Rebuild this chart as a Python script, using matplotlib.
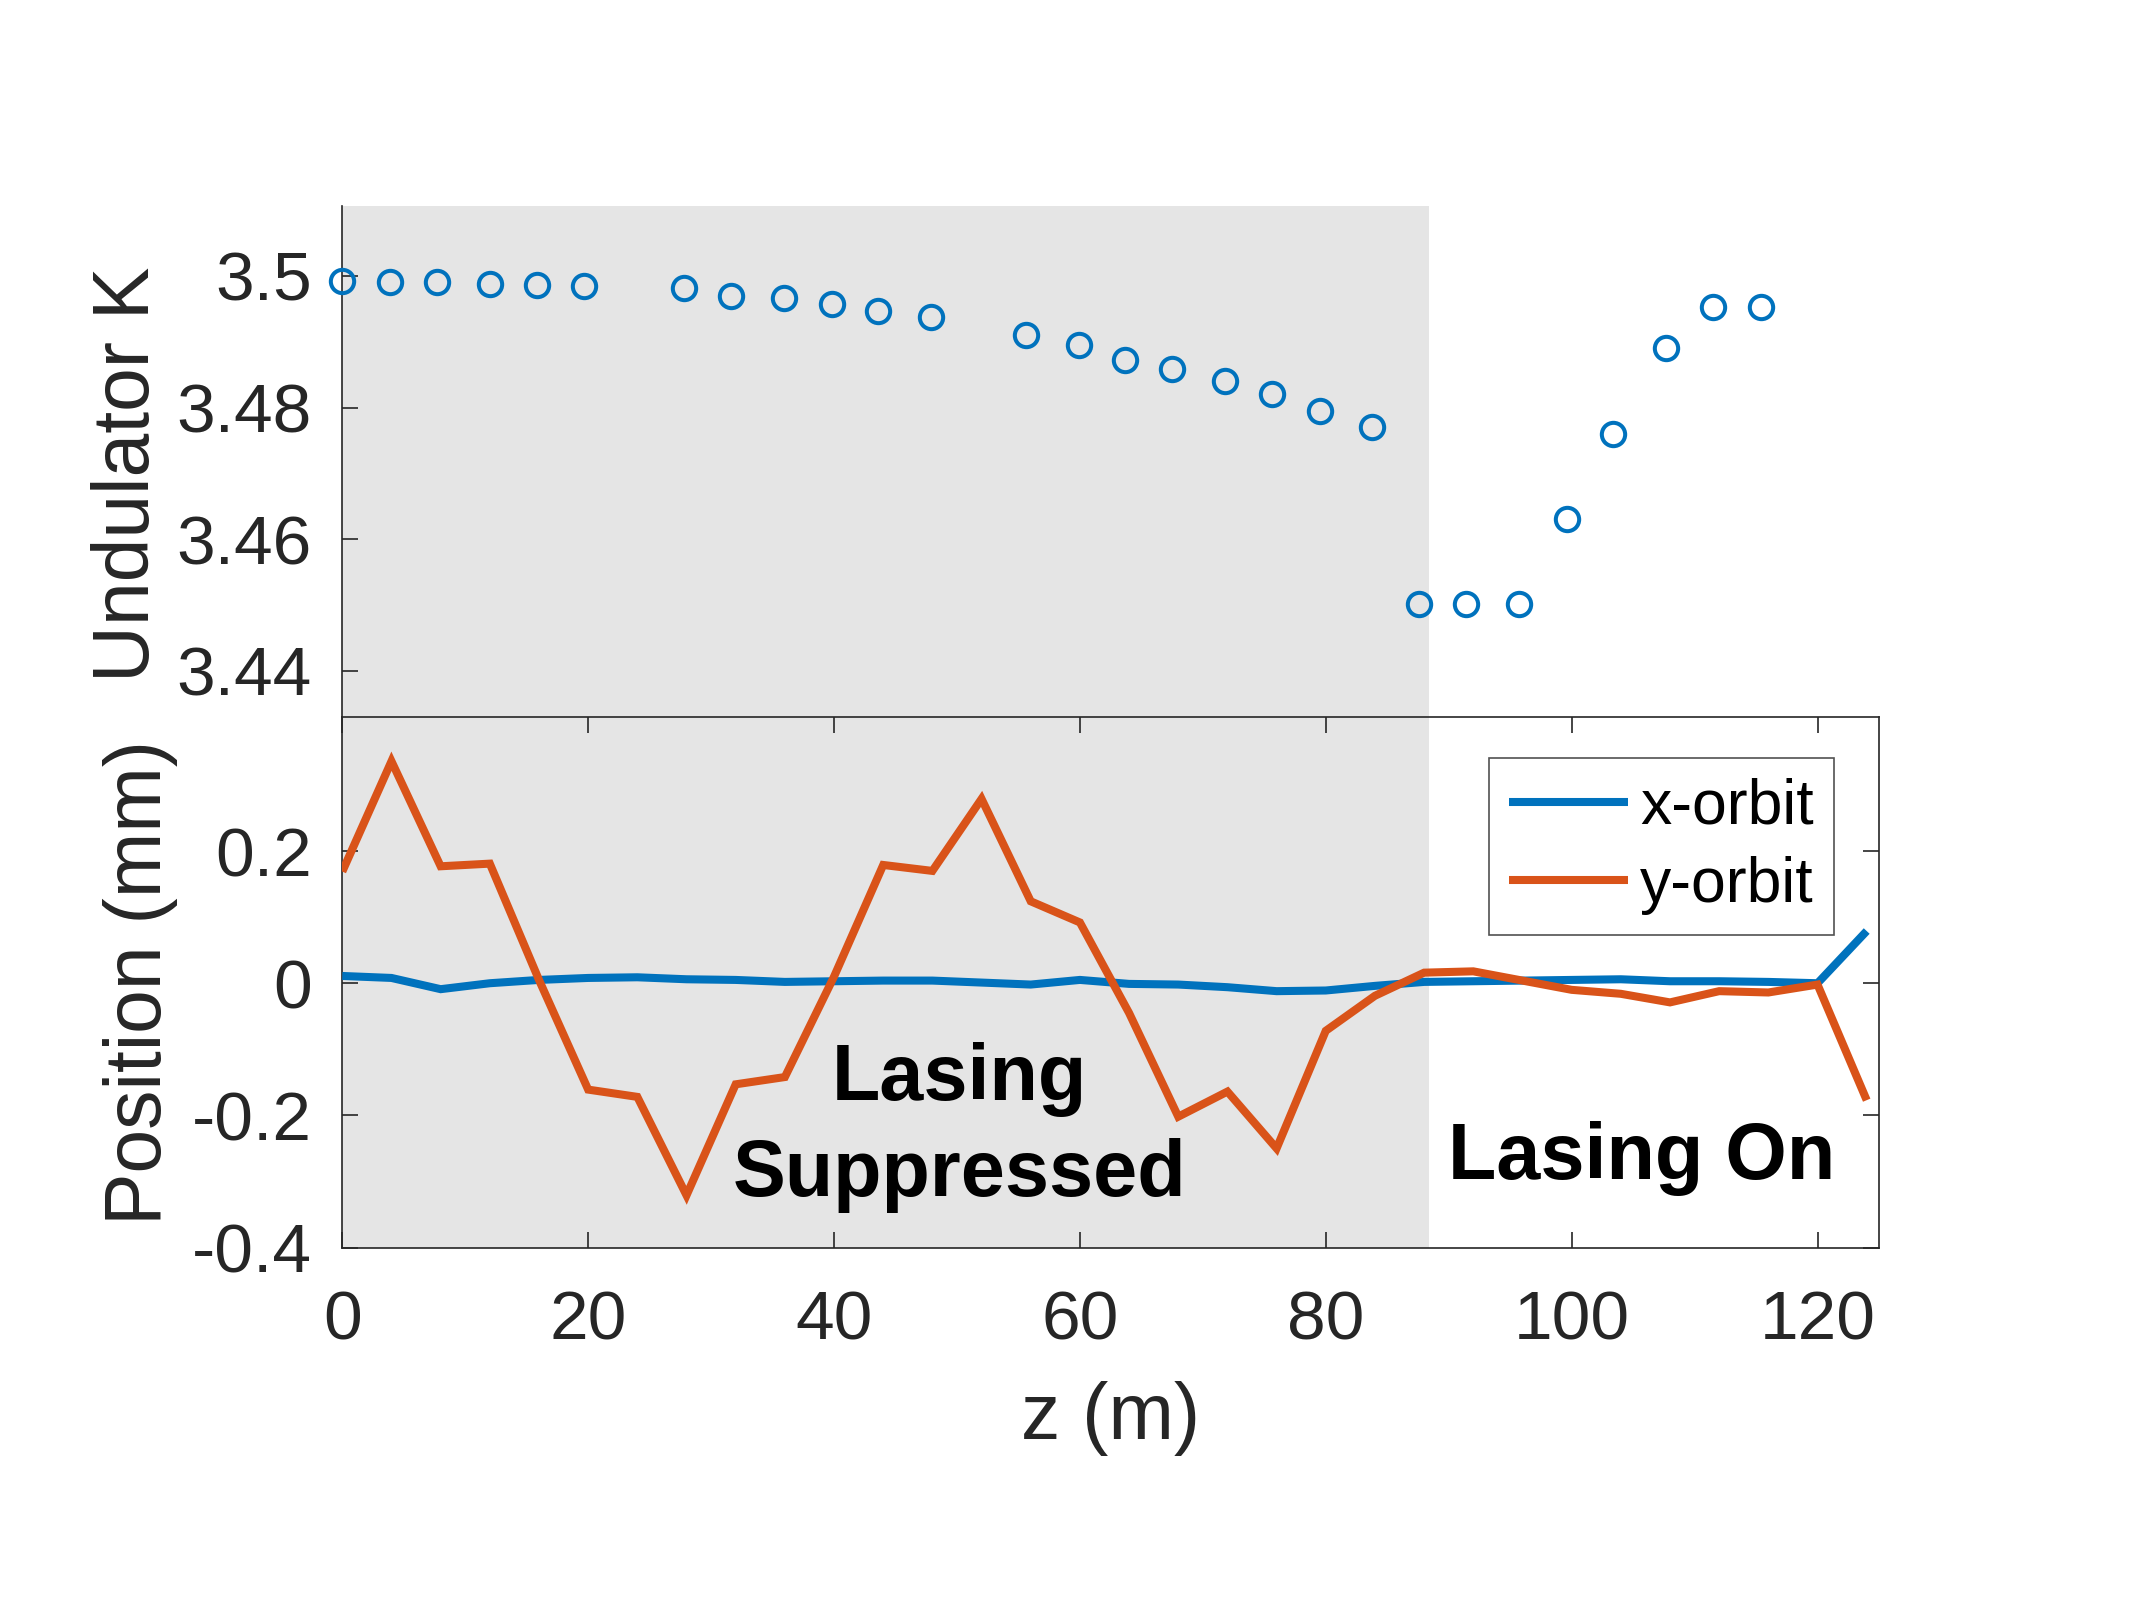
import matplotlib
matplotlib.use("Agg")
import matplotlib.pyplot as plt

plt.rcParams['font.family'] = ['Liberation Sans', 'DejaVu Sans']

# ---------------- data ----------------
z_und = [0.0, 3.9, 7.7, 12.0, 15.8, 19.7, 27.8, 31.6, 35.9, 39.8, 43.6, 47.9,
         55.6, 59.9, 63.7, 67.5, 71.8, 75.6, 79.5, 83.8, 87.6, 91.4, 95.7, 99.6,
         103.4, 107.7, 111.5, 115.4]
K_und = [3.4992, 3.4991, 3.4991, 3.4988, 3.4986, 3.4985, 3.4981, 3.4969, 3.4967,
         3.4958, 3.4947, 3.4937, 3.4910, 3.4895, 3.4872, 3.4859, 3.4840, 3.4820,
         3.4795, 3.4771, 3.4502, 3.4502, 3.4501, 3.4631, 3.4760, 3.4891, 3.4953,
         3.4953]

z_orb = [0, 4, 8, 12, 16, 20, 24, 28, 32, 36, 40, 44, 48, 52, 56, 60, 64, 68,
         72, 76, 80, 84, 88, 92, 96, 100, 104, 108, 112, 116, 120, 124]
x_orbit = [0.011, 0.008, -0.009, 0.000, 0.005, 0.008, 0.009, 0.006, 0.005, 0.002,
           0.003, 0.004, 0.004, 0.001, -0.002, 0.005, -0.001, -0.002, -0.006,
           -0.012, -0.011, -0.004, 0.002, 0.003, 0.004, 0.005, 0.006, 0.003,
           0.003, 0.002, 0.000, 0.079]
y_orbit = [0.169, 0.336, 0.177, 0.181, 0.005, -0.161, -0.172, -0.321, -0.153,
           -0.142, 0.010, 0.179, 0.170, 0.279, 0.124, 0.092, -0.045, -0.202,
           -0.164, -0.250, -0.072, -0.019, 0.016, 0.018, 0.004, -0.010, -0.016,
           -0.029, -0.012, -0.014, -0.002, -0.177]

suppressed_end = 88.36
series_labels = ['x-orbit', 'y-orbit']
x_ticks = [0, 20, 40, 60, 80, 100, 120]
x_ticklabels = ['0', '20', '40', '60', '80', '100', '120']
k_ticks = [3.44, 3.46, 3.48, 3.5]
k_ticklabels = ['3.44', '3.46', '3.48', '3.5']
pos_ticks = [-0.4, -0.2, 0.0, 0.2]
pos_ticklabels = ['-0.4', '-0.2', '0', '0.2']

# ---------------- style ----------------
BLUE = '#0072BD'
ORANGE = '#D95319'
GRAY = '#E5E5E5'
AX = '#262626'
TICK_FS = 25
LABEL_FS = 28.3
LEG_FS = 22.5
BOLD_FS = 28.5

fig = plt.figure(figsize=(10.67, 8.0), dpi=200)
L, R = 0.1604, 0.8805
ax_top = fig.add_axes([L, 0.5519, R - L, 0.8711 - 0.5519])
ax_bot = fig.add_axes([L, 0.2203, R - L, 0.5519 - 0.2203])

xlim = (0, 125)

# top axes
ax_top.set_facecolor('none')
ax_top.axvspan(0, suppressed_end, color=GRAY, lw=0, zorder=0)
ax_top.plot(z_und, K_und, 'o', mfc='none', mec=BLUE, ms=8.4, mew=1.45,
            clip_on=False, zorder=3)
ax_top.set_xlim(*xlim)
ax_top.set_ylim(3.43298, 3.5106)
for s in ['top', 'right', 'bottom']:
    ax_top.spines[s].set_visible(False)
ax_top.spines['left'].set_color(AX)
ax_top.spines['left'].set_linewidth(0.6)
ax_top.set_xticks([])
ax_top.set_yticks(k_ticks)
ax_top.set_yticklabels(k_ticklabels)
ax_top.tick_params(axis='y', direction='in', length=5.8, width=0.6,
                   color=AX, labelcolor=AX, labelsize=TICK_FS, pad=11)
ax_top.set_ylabel('Undulator K', fontsize=LABEL_FS, color=AX)
ax_top.yaxis.set_label_coords(-0.115, 0.476)

# bottom axes
ax_bot.axvspan(0, suppressed_end, color=GRAY, lw=0, zorder=0)
ax_bot.plot(z_orb, x_orbit, color=BLUE, lw=2.9, label=series_labels[0],
            solid_joinstyle='miter', solid_capstyle='butt', zorder=3)
ax_bot.plot(z_orb, y_orbit, color=ORANGE, lw=2.9, label=series_labels[1],
            solid_joinstyle='miter', solid_capstyle='butt', zorder=3)
ax_bot.set_xlim(*xlim)
ax_bot.set_ylim(-0.4, 0.403)
ax_bot.set_xticks(x_ticks)
ax_bot.set_xticklabels(x_ticklabels)
ax_bot.set_yticks(pos_ticks)
ax_bot.set_yticklabels(pos_ticklabels)
for s in ax_bot.spines.values():
    s.set_color(AX)
    s.set_linewidth(0.6)
ax_bot.tick_params(direction='in', length=5.8, width=0.6, color=AX,
                   labelcolor=AX, labelsize=TICK_FS, pad=11,
                   top=True, right=True)
ax_bot.tick_params(axis='x', pad=15)
ax_bot.set_ylabel('Position (mm)', fontsize=LABEL_FS, color=AX)
ax_bot.yaxis.set_label_coords(-0.107, 0.5)
ax_bot.set_xlabel('z (m)', fontsize=LABEL_FS, color=AX)
ax_bot.xaxis.set_label_coords(0.5, -0.251)

ax_bot.text(50.2, -0.1773, 'Lasing', fontsize=BOLD_FS, fontweight='bold',
            ha='center', va='baseline', color='black', zorder=4)
ax_bot.text(50.2, -0.3226, 'Suppressed', fontsize=BOLD_FS, fontweight='bold',
            ha='center', va='baseline', color='black', zorder=4)
ax_bot.text(105.7, -0.297, 'Lasing On', fontsize=BOLD_FS, fontweight='bold',
            ha='center', va='baseline', color='black', zorder=4)

leg = ax_bot.legend(loc='upper right', bbox_to_anchor=(0.9705, 0.923),
                    fontsize=LEG_FS, frameon=True, fancybox=False,
                    handlelength=1.9, handletextpad=0.2, labelspacing=0.305,
                    borderpad=0.32, borderaxespad=0.0)
leg.get_frame().set_edgecolor(AX)
leg.get_frame().set_linewidth(0.6)
for t in leg.get_texts():
    t.set_color('black')

fig.savefig('out.png', dpi=200, facecolor='white')
